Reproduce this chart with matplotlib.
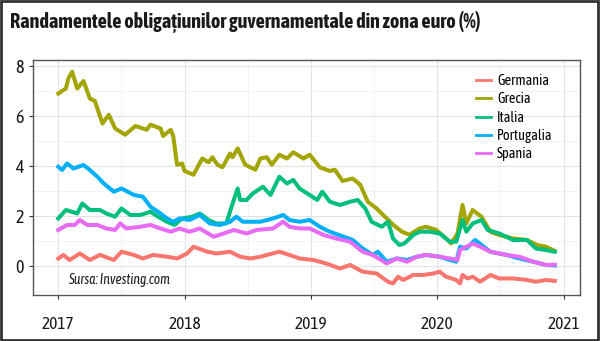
import matplotlib.pyplot as plt
from matplotlib.patches import Rectangle

# decimal years and yields (%)
germania_t = [2017.00, 2017.04, 2017.09, 2017.17, 2017.25, 2017.33, 2017.44, 2017.50, 2017.60, 2017.67,
              2017.75, 2017.86, 2017.94, 2018.02, 2018.07, 2018.18, 2018.25, 2018.36, 2018.44, 2018.52,
              2018.60, 2018.65, 2018.75, 2018.83, 2018.91, 2019.02, 2019.12, 2019.23, 2019.31, 2019.41,
              2019.52, 2019.61, 2019.65, 2019.69, 2019.73, 2019.81, 2019.89, 2019.97, 2020.02, 2020.07,
              2020.15, 2020.18, 2020.20, 2020.24, 2020.28, 2020.34, 2020.42, 2020.49, 2020.60, 2020.71,
              2020.78, 2020.86, 2020.93]
germania_v = [0.30, 0.44, 0.24, 0.50, 0.24, 0.44, 0.24, 0.57, 0.44, 0.30,
              0.44, 0.37, 0.30, 0.50, 0.77, 0.57, 0.50, 0.57, 0.37, 0.30,
              0.37, 0.44, 0.57, 0.44, 0.30, 0.24, 0.10, -0.10, 0.04, -0.23,
              -0.30, -0.63, -0.70, -0.43, -0.56, -0.36, -0.36, -0.30, -0.23, -0.43,
              -0.56, -0.70, -0.36, -0.50, -0.43, -0.63, -0.36, -0.50, -0.50, -0.56,
              -0.63, -0.56, -0.60]

grecia_t = [2017.00, 2017.06, 2017.08, 2017.11, 2017.15, 2017.20, 2017.25, 2017.29, 2017.35, 2017.40,
            2017.45, 2017.53, 2017.61, 2017.70, 2017.73, 2017.81, 2017.83, 2017.89, 2017.91, 2017.94,
            2017.98, 2018.00, 2018.07, 2018.14, 2018.19, 2018.22, 2018.26, 2018.30, 2018.36, 2018.38,
            2018.42, 2018.48, 2018.56, 2018.60, 2018.65, 2018.69, 2018.75, 2018.81, 2018.86, 2018.94,
            2018.99, 2019.07, 2019.15, 2019.19, 2019.25, 2019.33, 2019.39, 2019.45, 2019.52, 2019.60,
            2019.65, 2019.72, 2019.78, 2019.86, 2019.91, 2019.99, 2020.07, 2020.11, 2020.16, 2020.20,
            2020.23, 2020.28, 2020.35, 2020.42, 2020.49, 2020.60, 2020.71, 2020.79, 2020.86, 2020.93]
grecia_v = [6.90, 7.10, 7.50, 7.77, 7.10, 7.40, 6.70, 6.60, 5.70, 6.05,
            5.50, 5.25, 5.60, 5.45, 5.65, 5.50, 5.20, 5.45, 5.20, 4.05,
            4.10, 3.80, 3.65, 4.30, 4.15, 4.35, 4.05, 3.95, 4.50, 4.35,
            4.70, 4.05, 3.85, 4.30, 4.35, 4.05, 4.45, 4.30, 4.55, 4.30,
            4.45, 3.95, 3.80, 3.85, 3.40, 3.50, 3.25, 2.57, 2.30, 1.90,
            1.65, 1.37, 1.25, 1.50, 1.57, 1.45, 1.10, 0.90, 1.30, 2.44,
            1.70, 2.24, 1.97, 1.37, 1.24, 1.10, 1.04, 0.84, 0.77, 0.60]

italia_t = [2017.00, 2017.06, 2017.15, 2017.19, 2017.25, 2017.33, 2017.38, 2017.45, 2017.50, 2017.57,
            2017.65, 2017.73, 2017.79, 2017.86, 2017.92, 2017.98, 2018.06, 2018.12, 2018.19, 2018.25,
            2018.33, 2018.38, 2018.42, 2018.44, 2018.49, 2018.54, 2018.62, 2018.68, 2018.75, 2018.81,
            2018.86, 2018.91, 2018.99, 2019.05, 2019.09, 2019.15, 2019.23, 2019.31, 2019.37, 2019.43,
            2019.48, 2019.56, 2019.61, 2019.65, 2019.70, 2019.74, 2019.81, 2019.86, 2019.94, 2020.02,
            2020.10, 2020.15, 2020.20, 2020.23, 2020.28, 2020.35, 2020.40, 2020.49, 2020.60, 2020.71,
            2020.78, 2020.86, 2020.93]
italia_v = [1.90, 2.24, 2.10, 2.50, 2.24, 2.24, 2.10, 1.97, 2.30, 2.04,
            2.04, 2.17, 1.97, 1.77, 1.64, 1.90, 1.97, 2.10, 1.84, 1.70,
            1.70, 2.50, 3.10, 2.64, 2.64, 2.90, 3.17, 2.84, 3.57, 3.30,
            3.44, 3.10, 2.84, 2.64, 2.97, 2.57, 2.44, 2.57, 2.64, 2.30,
            1.77, 1.57, 1.77, 1.10, 0.84, 0.90, 1.24, 1.37, 1.37, 1.30,
            0.97, 0.97, 1.84, 1.37, 1.70, 1.84, 1.44, 1.30, 1.04, 1.04,
            0.70, 0.64, 0.57]

portugalia_t = [2017.00, 2017.03, 2017.07, 2017.12, 2017.20, 2017.25, 2017.31, 2017.36, 2017.44, 2017.50,
                2017.60, 2017.67, 2017.73, 2017.81, 2017.86, 2017.91, 2017.96, 2018.04, 2018.12, 2018.20,
                2018.28, 2018.36, 2018.41, 2018.46, 2018.60, 2018.70, 2018.78, 2018.83, 2018.91, 2018.99,
                2019.07, 2019.15, 2019.26, 2019.33, 2019.41, 2019.49, 2019.53, 2019.60, 2019.68, 2019.76,
                2019.84, 2019.91, 2020.02, 2020.10, 2020.15, 2020.18, 2020.23, 2020.30, 2020.35, 2020.42,
                2020.55, 2020.65, 2020.76, 2020.86, 2020.93]
portugalia_v = [3.97, 3.84, 4.10, 3.90, 4.04, 3.84, 3.57, 3.30, 2.97, 3.10,
                2.84, 2.77, 2.37, 2.10, 1.90, 1.77, 1.90, 1.84, 2.04, 1.70,
                1.64, 1.77, 1.97, 1.77, 1.77, 1.90, 2.04, 1.84, 1.77, 1.84,
                1.57, 1.37, 1.17, 1.04, 0.70, 0.44, 0.57, 0.17, 0.30, 0.24,
                0.37, 0.44, 0.37, 0.24, 0.17, 0.77, 0.70, 1.04, 0.84, 0.57,
                0.44, 0.30, 0.17, 0.04, 0.02]

spania_t = [2017.00, 2017.07, 2017.13, 2017.17, 2017.23, 2017.31, 2017.38, 2017.45, 2017.49, 2017.54,
            2017.65, 2017.73, 2017.81, 2017.89, 2017.96, 2018.04, 2018.12, 2018.23, 2018.31, 2018.39,
            2018.49, 2018.57, 2018.70, 2018.78, 2018.83, 2018.91, 2018.99, 2019.10, 2019.20, 2019.31,
            2019.41, 2019.49, 2019.60, 2019.68, 2019.76, 2019.84, 2019.91, 2020.02, 2020.10, 2020.16,
            2020.18, 2020.28, 2020.34, 2020.42, 2020.55, 2020.65, 2020.76, 2020.86, 2020.93]
spania_v = [1.44, 1.64, 1.64, 1.84, 1.64, 1.64, 1.50, 1.44, 1.70, 1.50,
            1.57, 1.64, 1.50, 1.37, 1.50, 1.37, 1.50, 1.17, 1.30, 1.44,
            1.30, 1.44, 1.50, 1.77, 1.57, 1.50, 1.50, 1.24, 1.10, 0.97,
            0.57, 0.44, 0.10, 0.30, 0.17, 0.37, 0.44, 0.37, 0.30, 0.24,
            0.64, 0.90, 0.77, 0.57, 0.44, 0.37, 0.17, 0.04, 0.05]

series = [
    ("Germania", germania_t, germania_v, "#F8766D"),
    ("Grecia", grecia_t, grecia_v, "#A3A500"),
    ("Italia", italia_t, italia_v, "#00BF7D"),
    ("Portugalia", portugalia_t, portugalia_v, "#00B0F6"),
    ("Spania", spania_t, spania_v, "#E76BF3"),
]

plt.rcParams["font.family"] = ["Asap Condensed", "DejaVu Sans"]

fig = plt.figure(figsize=(6, 3.41), dpi=100)
ax = fig.add_axes([0.055, 0.135, 0.9117, 0.689])

for name, t, v, color in series:
    ax.plot(t, v, color=color, linewidth=2.9, label=name, solid_joinstyle="round")

ax.set_xlim(2016.80, 2021.13)
ax.set_ylim(-1.16, 8.24)
ax.set_xticks([2017, 2018, 2019, 2020, 2021])
ax.set_xticklabels(["2017", "2018", "2019", "2020", "2021"])
ax.set_yticks([0, 2, 4, 6, 8])
ax.set_xticks([2017.5, 2018.5, 2019.5, 2020.5], minor=True)
ax.set_yticks([-1, 1, 3, 5, 7], minor=True)
ax.grid(True, which="major", color="#E3E3E3", linewidth=0.8)
ax.grid(True, which="minor", color="#EFEFEF", linewidth=0.5)
ax.set_axisbelow(True)
ax.tick_params(which="minor", length=0)
ax.tick_params(which="major", length=3, color="#333333", labelsize=13, labelcolor="#1a1a1a")
ax.tick_params(axis="x", pad=12, labelsize=12.5)
for sp in ax.spines.values():
    sp.set_color("#555555")
    sp.set_linewidth(1.0)

ax.text(2017.08, -0.72, "Sursa: Investing.com", fontsize=9.8, style="italic", color="#1a1a1a")

leg = ax.legend(loc="upper left", bbox_to_anchor=(0.80, 0.965), frameon=False, fontsize=10.3,
                handlelength=1.0, handletextpad=0.45, labelspacing=0.3, borderaxespad=0)
for line in leg.get_lines():
    line.set_linewidth(2)

fig.text(0.017, 0.935, "Randamentele obligațiunilor guvernamentale din zona euro (%)",
         fontsize=14.5, fontweight="bold", color="#1a1a1a", va="center")

fig.patches.append(Rectangle((0.002, 0.004), 0.995, 0.992, transform=fig.transFigure,
                             fill=False, edgecolor="#333333", linewidth=2))

fig.savefig("out.png", dpi=100)
